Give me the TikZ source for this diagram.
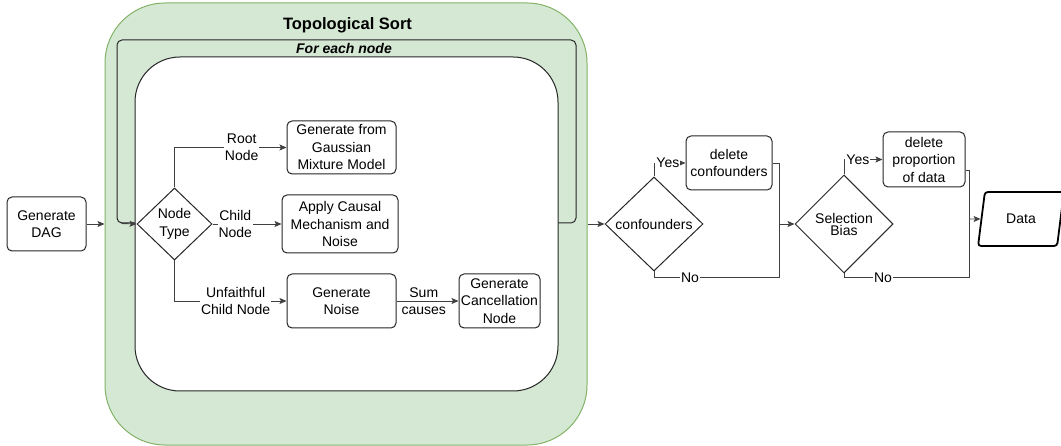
\documentclass[tikz,border=0pt]{standalone}
\usepackage{fontspec}
\setmainfont{Liberation Sans}
\usetikzlibrary{shapes.geometric}
\usetikzlibrary{arrows.meta}
\definecolor{sortfill}{HTML}{D5E8D4}
\definecolor{sortline}{HTML}{82B366}
\newcommand*{\bht }{54pt}
\newcommand*{\lnw }{0.9pt}
\newcommand*{\dsz }{\fontsize{14}{17.5}\selectfont}

\begin{document}
\begin{tikzpicture}[x=1pt, y=1pt, font=\dsz,
    blok/.style = {draw=black!85, line width=1pt, rounded corners=5pt, align=center, inner sep=0pt, minimum height=\bht},
    ruit/.style = {draw=black!85, line width=1pt, diamond, align=center, inner sep=0pt},
    lbl/.style  = {fill=white, inner sep=1pt, align=center},
    lin/.style  = {draw=black!75, line width=\lnw},
    arr/.style  = {lin, -{Stealth[length=7pt, width=6pt, inset=1.5pt]}}]
    \useasboundingbox (0,0) rectangle (1061,-446);
    % topological sort container
    \node [draw=sortline, fill=sortfill, line width=1pt, rounded corners=60pt, minimum width=482pt, minimum height=442pt] (topo) at (346,-224) {};
    \node [font=\fontsize{16.5}{20}\selectfont\bfseries] (topottl) at (347.5,-25) {Topological Sort};
    \node [draw=black!85, line width=1pt, rounded corners=5pt, minimum width=459pt, minimum height=183pt, inner sep=0pt] (loop) at (346.5,-131.5) {};
    \node [font=\dsz\bfseries\itshape] (loopttl) at (344,-49) {For each node};
    \node [draw=black!85, line width=1pt, fill=white, rounded corners=45pt, minimum width=423pt, minimum height=334pt] (body) at (346.5,-224) {};
    % left part
    \node [blok, minimum width=79pt] (dag) at (46.5,-224) {Generate\\DAG};
    \node [ruit, minimum width=75pt, minimum height=72pt] (type) at (174.5,-224) {Node\\Type};
    \node [blok, minimum width=109pt, minimum height=53pt] (gmm) at (341.5,-147.5) {Generate from\\Gaussian\\Mixture Model};
    \node [blok, minimum width=116pt, minimum height=58pt] (apply) at (340,-224) {Apply Causal\\Mechanism and\\Noise};
    \node [blok, minimum width=109pt] (noise) at (341.5,-301) {Generate\\Noise};
    \node [blok, minimum width=81pt] (cancel) at (499.5,-301) {Generate\\Cancellation\\Node};
    % right part
    \node [ruit, minimum width=98pt, minimum height=94pt] (conf) at (654,-224) {confounders};
    \node [blok, minimum width=86pt] (delconf) at (729,-163) {delete\\confounders};
    \node [ruit, minimum width=98pt, minimum height=98pt] (sel) at (844,-224) {Selection\\[-5.5pt]Bias};
    \node [blok, minimum width=82pt, minimum height=55pt] (delprop) at (924,-159.5) {delete\\proportion\\of data};
    \node [draw, line width=1.8pt, trapezium, trapezium left angle=74, trapezium right angle=106, trapezium stretches=true, minimum width=86pt, minimum height=54pt, rounded corners=3pt, inner sep=0pt] (data) at (1021,-219) {Data};
    \coordinate (jconf) at (779,-224);
    \coordinate (jsel) at (969,-219);
    % connectors
    \draw [arr] (dag) -- (topo);
    \draw [arr] ([xshift=5pt]loop.south west) -- (type.west);
    \draw [arr] (type.north) |- node [lbl, pos=0.8] {Root\\Node} (gmm.west);
    \draw [arr] (type.east) -- node [lbl, pos=0.33] {Child\\Node} (apply.west);
    \draw [arr] (type.south) |- node [lbl, pos=0.773] {Unfaithful\\Child Node} (noise.west);
    \draw [arr] (noise.east) -- node [inner sep=1pt, align=center, pos=0.44] {Sum\\causes} (cancel.west);
    \draw [arr] (topo.east) -- (conf.west);
    \draw [arr] (conf.north) |- node [lbl, pos=0.72] {Yes} (delconf.west);
    \draw [lin] (delconf.east) -| (jconf);
    \draw [lin] (conf.south) -- ++(0,-6) -| node [lbl, pos=0.144] {No} (jconf);
    \draw [arr] (jconf) -- (sel.west);
    \draw [arr] (sel.north) |- node [lbl, pos=0.68] {Yes} (delprop.west);
    \draw [lin] ([yshift=-11pt]delprop.east) -| (jsel);
    \draw [lin] (sel.south) -- ++(0,-4) -| node [lbl, pos=0.156] {No} (jsel);
    \draw [arr] (jsel) -- (data.west);
    %\draw [lin] (loop.south east) -- (topo.east);
\end{tikzpicture}
\end{document}
